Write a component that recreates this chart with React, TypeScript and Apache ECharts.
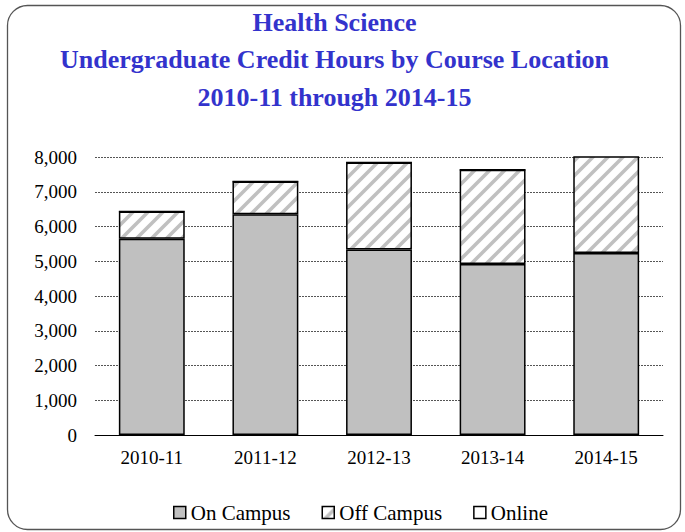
import React, { useEffect, useRef } from 'react';
import * as echarts from 'echarts';

const categories = ['2010-11', '2011-12', '2012-13', '2013-14', '2014-15'];
const seriesNames = ['On Campus', 'Off Campus', 'Online'];
const onCampus = [5650, 6355, 5335, 4920, 5240];
const offCampus = [780, 940, 2505, 2710, 2860];
const online = [0, 0, 0, 0, 0];
const titleLines = [
  'Health Science',
  'Undergraduate Credit Hours by Course Location',
  '2010-11 through 2014-15',
];
const yMin = 0;
const yMax = 8000;
const yInterval = 1000;

const SERIF = 'Liberation Serif, serif';

const hatchSvg =
  "<svg xmlns='http://www.w3.org/2000/svg' width='15' height='15'>" +
  "<rect width='15' height='15' fill='#ffffff'/>" +
  "<path d='M-3,18 L18,-3 M-8,8 L8,-8 M7,23 L23,7' stroke='#c0c0c0' stroke-width='3.6'/>" +
  '</svg>';
const hatchUrl = 'data:image/svg+xml;charset=utf-8,' + encodeURIComponent(hatchSvg);

export default function App() {
  const ref = useRef<HTMLDivElement>(null);
  useEffect(() => {
    if (!ref.current) return;
    const chart = echarts.init(ref.current, undefined, { renderer: 'svg' });
    const border = { borderColor: '#000000', borderWidth: 1.5 };
    chart.setOption({
      animation: false,
      backgroundColor: '#ffffff',
      graphic: [
        {
          type: 'rect',
          shape: { x: 7.5, y: 5.5, width: 673, height: 524, r: 20 },
          style: { fill: 'none', stroke: '#555555', lineWidth: 1.3 },
          silent: true,
          z: -1,
        },
        ...titleLines.map((t, i) => ({
          type: 'text',
          x: 334.5,
          y: 22 + i * 37.5,
          style: {
            text: t,
            fill: '#3333cc',
            fontFamily: SERIF,
            fontSize: 26,
            fontWeight: 'bold',
            textAlign: 'center',
            textVerticalAlign: 'middle',
          },
          silent: true,
        })),
      ],
      legend: {
        data: seriesNames,
        left: 168,
        top: 497,
        icon: 'rect',
        itemWidth: 12,
        itemHeight: 12,
        itemGap: 31,
        itemStyle: { borderColor: '#000000', borderWidth: 1.5 },
        textStyle: { fontFamily: SERIF, fontSize: 21, color: '#000000' },
      },
      grid: { left: 95, right: 22, top: 157, bottom: 97, containLabel: false },
      xAxis: {
        type: 'category',
        data: categories,
        axisLine: { show: true, lineStyle: { color: '#000000', width: 1 } },
        axisTick: { show: false },
        axisLabel: { fontFamily: SERIF, fontSize: 19, color: '#000000', margin: 13 },
      },
      yAxis: {
        type: 'value',
        min: yMin,
        max: yMax,
        interval: yInterval,
        axisLine: { show: false },
        axisTick: { show: false },
        axisLabel: {
          fontFamily: SERIF,
          fontSize: 19,
          color: '#000000',
          margin: 18,
          formatter: (v: number) => v.toLocaleString('en-US'),
        },
        splitLine: { show: true, lineStyle: { color: '#555555', width: 1, type: [2, 1] } },
      },
      series: [
        {
          name: seriesNames[0],
          type: 'bar',
          stack: 'total',
          data: onCampus,
          barCategoryGap: '42%',
          clip: true,
          itemStyle: { color: '#c0c0c0', ...border },
        },
        {
          name: seriesNames[1],
          type: 'bar',
          stack: 'total',
          data: offCampus,
          clip: true,
          itemStyle: {
            color: { image: hatchUrl, repeat: 'repeat', imageWidth: 15, imageHeight: 15 },
            ...border,
          },
        },
        {
          name: seriesNames[2],
          type: 'bar',
          stack: 'total',
          data: online,
          clip: true,
          itemStyle: { color: '#ffffff', ...border },
        },
      ],
    });
    return () => chart.dispose();
  }, []);
  return (
    <div
      ref={ref}
      style={{ position: 'absolute', left: 0, top: 0, width: 685, height: 532 }}
    />
  );
}
